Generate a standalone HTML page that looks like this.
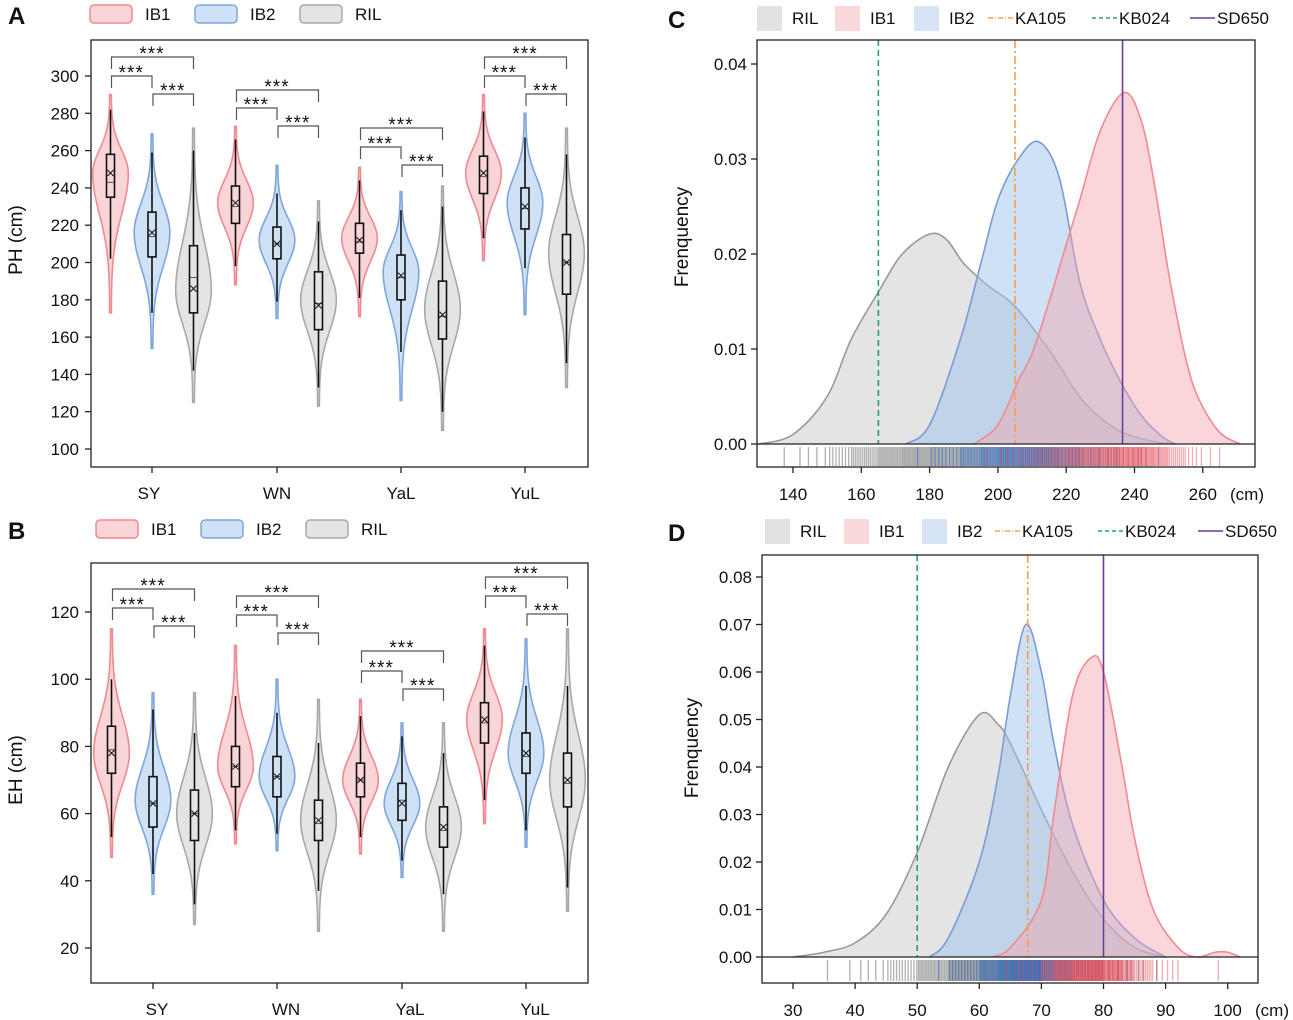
<!DOCTYPE html>
<html><head><meta charset="utf-8"><style>
html,body{margin:0;padding:0;background:#fff}
svg{display:block;font-family:"Liberation Sans",Arial,sans-serif}
text{fill:#111}
</style></head><body>
<svg id="fig" width="1293" height="1020" viewBox="0 0 1293 1020" xmlns="http://www.w3.org/2000/svg"></svg>
<script>
// ---------- DATA ----------
const groups = ["SY","WN","YaL","YuL"];
const series = ["IB1","IB2","RIL"];
// Panel A (PH): [vmin, whiskerLo, q1, median, mean, q3, whiskerHi, vmax, peak]
const phIB1 = [[173,202,235,243,248,258,282,290,248],[188,198,221,230,232,241,266,273,232],[171,181,205,211,212,221,244,251,213],[201,213,237,246,248,257,281,290,248]];
const phIB2 = [[154,173,203,214,216,227,259,269,216],[170,179,202,210,210,219,237,252,212],[126,152,180,192,193,204,228,238,195],[172,197,218,229,230,240,267,280,232]];
const phRIL = [[125,142,173,192,186,209,260,272,185],[123,133,164,178,177,195,222,233,180],[110,120,159,171,172,190,230,241,175],[133,146,183,200,200,215,258,272,205]];
// Panel B (EH)
const ehIB1 = [[47,53,72,79,78,86,100,115,78],[51,55,68,74,74,80,95,110,74],[48,53,65,70,70,75,89,94,70],[57,64,81,87,88,93,110,115,88]];
const ehIB2 = [[36,42,56,63,63,71,91,96,64],[49,54,65,71,71,77,90,100,71],[41,46,58,64,63,69,83,87,63],[50,55,72,77,78,84,98,112,78]];
const ehRIL = [[27,33,52,60,60,67,84,96,60],[25,37,52,57,58,64,81,94,58],[25,36,50,55,56,62,78,87,56],[31,38,62,69,70,78,98,115,70]];
// Panel C density (PH)
const cX_RIL = [130,140,150,157,165,172,180,185,190,197,205,215,225,235,245,252];
const cY_RIL = [0,0.001,0.005,0.011,0.016,0.020,0.0221,0.0215,0.019,0.0167,0.0145,0.0099,0.0045,0.0015,0.0003,0];
const cX_IB2 = [173,180,189,195,200,206,212,218,224,230,236,242,248,252];
const cY_IB2 = [0,0.002,0.011,0.019,0.0257,0.030,0.0318,0.028,0.017,0.011,0.0065,0.003,0.0008,0];
const cX_IB1 = [193,200,206,210,215,220,224,230,237,242,246,250,255,259,265,271];
const cY_IB1 = [0,0.002,0.0067,0.0095,0.015,0.021,0.0257,0.033,0.037,0.034,0.027,0.018,0.009,0.0046,0.0012,0];
const cRef = [205,165,236.5]; // KA105, KB024, SD650
// Panel D density (EH)
const dX_RIL = [30,35,40,45,50,55,60,63,65,70,75,80,85,90];
const dY_RIL = [0,0.001,0.003,0.009,0.022,0.040,0.051,0.049,0.045,0.031,0.018,0.008,0.002,0];
const dX_IB2 = [52,55,60,63,65,67.5,70,72,75,80,85,90];
const dY_IB2 = [0,0.004,0.02,0.038,0.055,0.070,0.060,0.045,0.028,0.012,0.004,0];
const dX_IB1 = [62,65,70,72,75,78,80,83,85,88,92,95,98,100,102];
const dY_IB1 = [0,0.002,0.012,0.03,0.055,0.063,0.060,0.040,0.025,0.010,0.002,0,0.001,0.001,0];
const dRef = [67.8,50,80];
const phTicks = [100,120,140,160,180,200,220,240,260,280,300];
const ehTicks = [20,40,60,80,100,120];
const cxTicks = [140,160,180,200,220,240,260];
const cyTicks = [0,0.01,0.02,0.03,0.04];
const dxTicks = [30,40,50,60,70,80,90,100];
const dyTicks = [0,0.01,0.02,0.03,0.04,0.05,0.06,0.07,0.08];

// ---------- HELPERS ----------
const NS="http://www.w3.org/2000/svg", svg=document.getElementById('fig');
function el(tag,attrs,parent,txt){const e=document.createElementNS(NS,tag);for(const k in attrs)e.setAttribute(k,attrs[k]);if(txt!==undefined)e.textContent=txt;(parent||svg).appendChild(e);return e;}
const COL={IB1:{f:'#f9d5d8',s:'#f08990'},IB2:{f:'#cfe1f4',s:'#7fa6dc'},RIL:{f:'#e3e4e4',s:'#a8a8a8'}};
function txt(x,y,s,size,anchor,parent,name,extra){const t=el('text',Object.assign({x:x,y:y,'font-size':size,'text-anchor':anchor||'start'},extra||{}),parent,s);return t;}
function smooth(pts){let d='M'+pts[0][0]+','+pts[0][1];for(let i=0;i<pts.length-1;i++){const p0=pts[i-1]||pts[i],p1=pts[i],p2=pts[i+1],p3=pts[i+2]||p2;d+=` C${p1[0]+(p2[0]-p0[0])/6},${p1[1]+(p2[1]-p0[1])/6} ${p2[0]-(p3[0]-p1[0])/6},${p2[1]-(p3[1]-p1[1])/6} ${p2[0]},${p2[1]}`;}return d;}

// ---------- VIOLIN PANELS ----------
function violinPanel(cfg){
  const g=el('g',{});
  const Y=cfg.y;
  const fr=el('rect',{x:cfg.x0,y:cfg.y0,width:cfg.x1-cfg.x0,height:cfg.y1-cfg.y0,fill:'none',stroke:'#222','stroke-width':1.3},g);
  
  cfg.ticks.forEach(t=>{el('line',{x1:cfg.x0-6,x2:cfg.x0,y1:Y(t),y2:Y(t),stroke:'#222','stroke-width':1.3},g);txt(cfg.x0-12,Y(t)+6,t,17,'end',g,'y-tick-label');});
  txt(0,0,cfg.ytitle,19,'middle',g,'y-axis-title',{transform:`translate(22,${cfg.ymid}) rotate(-90)`});
  const dataS=[cfg.IB1,cfg.IB2,cfg.RIL];
  groups.forEach((gr,gi)=>{
    const cx=cfg.gx[gi];
    el('line',{x1:cx,x2:cx,y1:cfg.y1,y2:cfg.y1+6,stroke:'#222','stroke-width':1.3},g);
    txt(cfg.lx[gi],cfg.y1+32,gr,17,'middle',g,'x-tick-label-'+gr.toLowerCase());
    series.forEach((s,si)=>{
      const d=dataS[si][gi],x=cx+(si-1)*cfg.dx;
      const [vmin,wl,q1,med,mean,q3,wh,vmax,pk]=d;
      const sl=(pk-vmin)/2.4,su=(vmax-pk)/2.4,pts=[],N=40;
      for(let i=0;i<=N;i++){const v=vmin+(vmax-vmin)*i/N;const z=v<pk?(v-pk)/sl:(v-pk)/su;pts.push([v,cfg.hw*Math.exp(-z*z)+0.8]);}
      const right=pts.map(p=>[x+p[1],Y(p[0])]),left=pts.slice().reverse().map(p=>[x-p[1],Y(p[0])]);
      const vp=el('path',{d:smooth(right)+' L'+smooth(left).slice(1)+' Z',fill:COL[s].f,stroke:COL[s].s,'stroke-width':1.6},g);
      
      el('line',{x1:x,x2:x,y1:Y(wl),y2:Y(wh),stroke:'#111','stroke-width':1.6},g);
      const bx=el('rect',{x:x-4,y:Y(q3),width:8,height:Y(q1)-Y(q3),fill:COL[s].f,stroke:'#111','stroke-width':1.6},g);
      
      el('line',{x1:x-4,x2:x+4,y1:Y(med),y2:Y(med),stroke:'#333','stroke-width':0.8},g);
      const my=Y(mean);
      el('path',{d:`M${x-3},${my-3}L${x+3},${my+3}M${x-3},${my+3}L${x+3},${my-3}`,stroke:'#111','stroke-width':1},g);
    });
    const bk=cfg.br[gi],xs=[cx-cfg.dx,cx,cx+cfg.dx];
    [[0,2,bk[0]],[0,1,bk[1]],[1,2,bk[2]]].forEach(([a,b,yy])=>{
      const p=el('path',{d:`M${xs[a]+1},${yy+12}V${yy}H${xs[b]}V${yy+12}`,fill:'none',stroke:'#555','stroke-width':1.2},g);
      
      txt((xs[a]+xs[b])/2,yy+3,'***',19,'middle',g,'significance-label',{'letter-spacing':'1'});
    });
  });
  series.forEach((s,si)=>{
    const lx=cfg.legx+si*105;
    const r=el('rect',{x:lx,y:cfg.legy-9,width:42,height:18,rx:4,fill:COL[s].f,stroke:COL[s].s,'stroke-width':1.5},g);
    
    txt(lx+55,cfg.legy+6,s,17,'start',g,'legend-label-'+s.toLowerCase());
  });
  txt(8,cfg.legy+10,cfg.letter,24,'start',g,'panel-letter',{'font-weight':'bold'});
}
violinPanel({name:'panel-a',letter:'A',x0:91,x1:588,y0:40,y1:467,y:v=>449-(v-100)*1.865,ticks:phTicks,ytitle:'PH (cm)',ymid:240,
  gx:[152,277,401,525],lx:[149,277,401,525],dx:41.5,hw:17,IB1:phIB1,IB2:phIB2,RIL:phRIL,
  br:[[57,76,94],[90,108,126],[128,147,165],[57,76,94]],legx:90,legy:14});
violinPanel({name:'panel-b',letter:'B',x0:91,x1:588,y0:563,y1:983,y:v=>948-(v-20)*3.36,ticks:ehTicks,ytitle:'EH (cm)',ymid:770,
  gx:[153,277,402,526],lx:[157,286,410,535],dx:41.5,hw:17,IB1:ehIB1,IB2:ehIB2,RIL:ehRIL,
  br:[[589,608,626],[596,615,633],[651,671,689],[577,596,614]],legx:96,legy:529});

// ---------- DENSITY PANELS ----------
const DCOL={RIL:{f:'rgba(200,202,200,0.5)',s:'#999',r:'rgba(80,80,80,0.45)'},IB2:{f:'rgba(160,195,235,0.5)',s:'#7b9bd6',r:'rgba(40,100,190,0.5)'},IB1:{f:'rgba(245,165,172,0.45)',s:'#f08a8f',r:'rgba(232,70,80,0.45)'}};
const REF=[{n:'KA105',c:'#f4a04a',da:'8,3,2,3'},{n:'KB024',c:'#2a9a88',da:'6,4'},{n:'SD650',c:'#6a3d9a',da:''}];
function densityPanel(cfg){
  const g=el('g',{});
  const X=cfg.x,Y=cfg.y;
  cfg.series.forEach(([s,xs,ys])=>{
    const pts=xs.map((v,i)=>[X(v),Y(ys[i])]);
    const p=el('path',{d:smooth(pts)+`L${X(xs[xs.length-1])},${Y(0)}L${X(xs[0])},${Y(0)}Z`,fill:DCOL[s].f,stroke:'none'},g);
    
    const l=el('path',{d:smooth(pts),fill:'none',stroke:DCOL[s].s,'stroke-width':1.6},g);
    
    const cdf=[0];for(let i=1;i<xs.length;i++)cdf.push(cdf[i-1]+(ys[i]+ys[i-1])/2*(xs[i]-xs[i-1]));
    const tot=cdf[cdf.length-1],N=160;
    for(let k=0;k<N;k++){const q=(k+0.5)/N*tot;let i=1;while(i<cdf.length-1&&cdf[i]<q)i++;const f=(q-cdf[i-1])/(cdf[i]-cdf[i-1]||1);const v=xs[i-1]+f*(xs[i]-xs[i-1]);
      const r=el('line',{x1:X(v),x2:X(v),y1:cfg.rug[0],y2:cfg.rug[1],stroke:DCOL[s].r,'stroke-width':1.3},g);
      }
  });
  cfg.ref.forEach((v,i)=>{const l=el('line',{x1:X(v),x2:X(v),y1:cfg.y0,y2:Y(0),stroke:REF[i].c,'stroke-width':1.6,'stroke-dasharray':REF[i].da},g);
    });
  const fr=el('rect',{x:cfg.x0,y:cfg.y0,width:cfg.x1-cfg.x0,height:cfg.y1-cfg.y0,fill:'none',stroke:'#222','stroke-width':1.3},g);
  
  el('line',{x1:cfg.x0,x2:cfg.x1,y1:Y(0),y2:Y(0),stroke:'#222','stroke-width':1.3},g);
  cfg.yt.forEach(t=>{el('line',{x1:cfg.x0-6,x2:cfg.x0,y1:Y(t),y2:Y(t),stroke:'#222','stroke-width':1.3},g);txt(cfg.x0-10,Y(t)+6,t.toFixed(2),17,'end',g,'y-tick-label');});
  cfg.xt.forEach(t=>{el('line',{x1:X(t),x2:X(t),y1:cfg.y1,y2:cfg.y1+6,stroke:'#222','stroke-width':1.3},g);txt(X(t),cfg.y1+33,t,17,'middle',g,'x-tick-label');});
  txt(cfg.cmx,cfg.y1+33,'(cm)',17,'start',g,'x-axis-unit');
  txt(0,0,'Frenquency',19,'middle',g,'y-axis-title',{transform:`translate(${cfg.ytx},${cfg.ymid}) rotate(-90)`});
  txt(668,cfg.legy+10,cfg.letter,24,'start',g,'panel-letter',{'font-weight':'bold'});
  const L=cfg.leg;
  [['RIL','#e2e2e2'],['IB1','#f9d8dc'],['IB2','#d6e4f5']].forEach(([s,c],i)=>{
    const r=el('rect',{x:L[i],y:cfg.legy-12,width:25,height:25,fill:c},g);
    txt(L[i]+35,cfg.legy+6,s,17,'start',g,'legend-label-'+s.toLowerCase());});
  REF.forEach((r,i)=>{const lx=L[3+i];el('line',{x1:lx,x2:lx+25,y1:cfg.legy,y2:cfg.legy,stroke:r.c,'stroke-width':1.6,'stroke-dasharray':r.da?(i==0?'5,2,1,2':'4,3'):''},g);
    txt(lx+27,cfg.legy+6,r.n,17,'start',g,'legend-label-'+r.n.toLowerCase());});
}
densityPanel({name:'panel-c',letter:'C',x0:757,x1:1255,y0:40,y1:467,x:v=>793+(v-140)*3.415,y:f=>444-f*9500,
  series:[['RIL',cX_RIL,cY_RIL],['IB2',cX_IB2,cY_IB2],['IB1',cX_IB1,cY_IB1]],ref:cRef,rug:[447,466],
  yt:cyTicks,xt:cxTicks,cmx:1230,ytx:688,ymid:237,legy:18,leg:[757,835,914,988,1092,1190]});
densityPanel({name:'panel-d',letter:'D',x0:762,x1:1258,y0:555,y1:983,x:v=>793+(v-30)*6.21,y:f=>957-f*4750,
  series:[['RIL',dX_RIL,dY_RIL],['IB2',dX_IB2,dY_IB2],['IB1',dX_IB1,dY_IB1]],ref:dRef,rug:[960,981],
  yt:dyTicks,xt:dxTicks,cmx:1255,ytx:698,ymid:748,legy:531,leg:[765,844,922,995,1098,1198]});
</script>
</body></html>
